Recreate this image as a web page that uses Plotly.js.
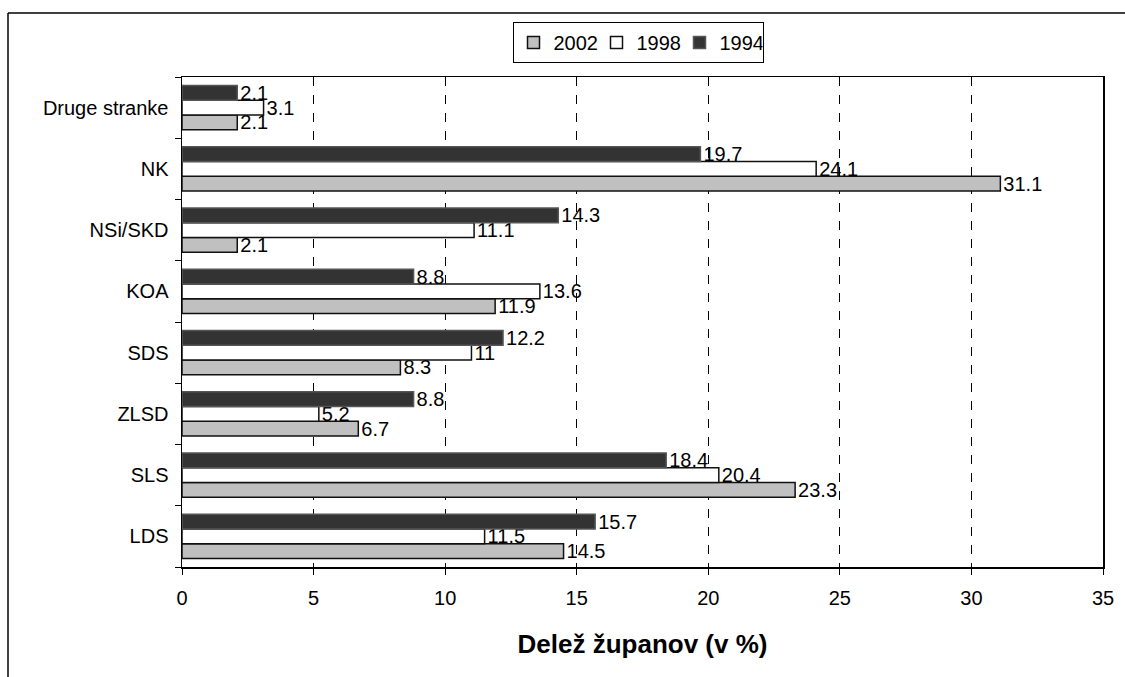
<!DOCTYPE html>
<html>
<head>
<meta charset="utf-8">
<script src="https://cdn.plot.ly/plotly-3.0.1.min.js"></script>
<style>html,body{margin:0;padding:0;background:#fff;}#chart{width:1125px;height:677px;}</style>
</head>
<body>
<div id="chart"></div>
<script>
const categories = ['LDS','SLS','ZLSD','SDS','KOA','NSi/SKD','NK','Druge stranke'];
const seriesNames = ['2002','1998','1994'];
const values2002 = [14.5, 23.3, 6.7, 8.3, 11.9, 2.1, 31.1, 2.1];
const values1998 = [11.5, 20.4, 5.2, 11, 13.6, 11.1, 24.1, 3.1];
const values1994 = [15.7, 18.4, 8.8, 12.2, 8.8, 14.3, 19.7, 2.1];
const xTicks = [0,5,10,15,20,25,30,35];

const fills = ['#c0c0c0','#ffffff','#333333'];
const allValues = [values2002, values1998, values1994];

const traces = allValues.map((vals, i) => ({
  type: 'bar',
  orientation: 'h',
  name: seriesNames[i],
  y: categories,
  x: vals,
  text: vals.map(v => String(v)),
  textposition: 'outside',
  constraintext: 'none',
  cliponaxis: false,
  textfont: {family: 'Liberation Sans, Arial, sans-serif', size: 20, color: '#000'},
  marker: {color: fills[i], line: {color: i === 2 ? '#555' : '#111', width: 1.5}},
  hoverinfo: 'x+y'
}));

const W = 921, H = 490, L = 182, T = 77;
const px2x = p => (p - L) / W;
const px2y = p => (T + H - p) / H;

const layout = {
  width: 1125, height: 677,
  margin: {l: L, r: 1125 - L - W, t: T, b: 677 - T - H},
  paper_bgcolor: '#fff', plot_bgcolor: '#fff',
  barmode: 'group',
  bargap: 0.28,
  bargroupgap: 0,
  font: {family: 'Liberation Sans, Arial, sans-serif', size: 20, color: '#000'},
  showlegend: true,
  legend: {
    orientation: 'h', x: px2x(638), y: px2y(22), xanchor: 'center', yanchor: 'top',
    bordercolor: '#000', borderwidth: 1, bgcolor: '#fff',
    font: {size: 20}, traceorder: 'normal', itemwidth: 30, tracegroupgap: 0,
    entrywidth: 38, entrywidthmode: 'pixels'
  },
  xaxis: {
    range: [0, 35], tickvals: xTicks, ticktext: xTicks.map(String),
    showgrid: true, gridcolor: '#000', griddash: 'dash', gridwidth: 1,
    zeroline: false, showline: true, linecolor: '#000', linewidth: 1.5, mirror: true,
    ticks: 'outside', ticklen: 6, tickcolor: '#000', tickfont: {size: 20},
    ticklabelstandoff: 6,
    title: {text: '<b>Delež županov (v %)</b>', font: {size: 26}, standoff: 27},
    fixedrange: true
  },
  yaxis: {
    type: 'category', categoryorder: 'array', categoryarray: categories,
    showgrid: false, zeroline: false, showline: true, linecolor: '#000', linewidth: 1.5, mirror: true,
    ticks: 'outside', ticklen: 6, tickcolor: '#000', tickson: 'boundaries',
    tickfont: {size: 20}, ticklabelstandoff: 8, fixedrange: true
  },
  shapes: [
    {type: 'line', xref: 'paper', yref: 'paper', x0: px2x(8), x1: px2x(8), y0: px2y(13), y1: px2y(700), line: {color: '#000', width: 1.5}},
    {type: 'line', xref: 'paper', yref: 'paper', x0: px2x(8), x1: px2x(1200), y0: px2y(13), y1: px2y(13), line: {color: '#000', width: 1.5}}
  ]
};

Plotly.newPlot('chart', traces, layout, {displayModeBar: false, staticPlot: true});
</script>
</body>
</html>
